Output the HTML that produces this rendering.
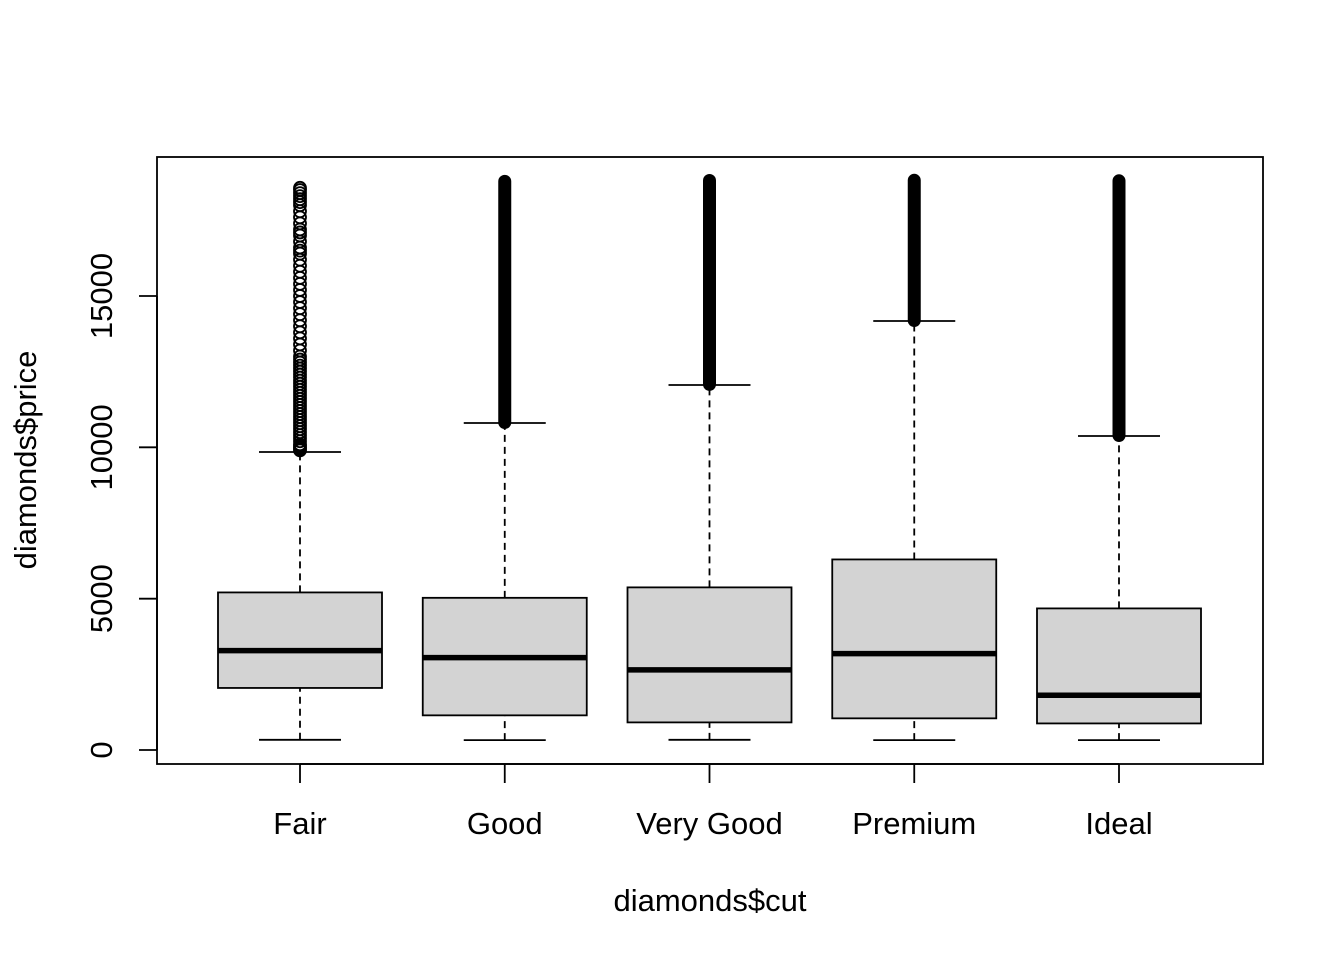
<!DOCTYPE html>
<html><head><meta charset="utf-8"><style>
html,body{margin:0;padding:0;background:#fff;}
svg text{font-family:"Liberation Sans",Arial,sans-serif;fill:#000;}
</style></head><body>
<svg id="chart" width="1344" height="960" xmlns="http://www.w3.org/2000/svg">
<rect x="157" y="157" width="1106" height="607" fill="none" stroke="#000" stroke-width="1.8"/>
<g id="marks"></g>
<g id="axes"></g>
<text x="710" y="911" font-size="31" text-anchor="middle">diamonds$cut</text>
<text transform="translate(36,460) rotate(-90)" font-size="31" text-anchor="middle">diamonds$price</text>
</svg>
<script>
const categories = ["Fair","Good","Very Good","Premium","Ideal"];
const mins = [337,327,336,326,326];
const q1s = [2050,1145,912,1046,878];
const medians = [3282,3050,2648,3185,1810];
const q3s = [5206,5028,5373,6296,4678];
const upperWhiskers = [9846,10804,12059,14174,10374];
const outlierLow = [9900,10820,12080,14190,10390];
const outlierHigh = [18574,18788,18818,18823,18806];
const fairOutliers = [9900,9950,10000,10050,10100,10200,10300,10400,10500,10600,10700,10800,10900,11000,11100,11200,11300,11400,11500,11600,11700,11800,11900,12000,12100,12200,12300,12400,12500,12600,12700,12800,12900,13000,13200,13400,13600,13800,14000,14200,14400,14600,14800,15000,15200,15400,15600,15800,16000,16200,16400,16500,16600,16800,17000,17100,17200,17400,17600,17800,18000,18100,18200,18300,18400,18500,18574];
const yTicks = [0,5000,10000,15000];

const NS="http://www.w3.org/2000/svg";
const xScale = i => 300 + i*204.75;
const yScale = v => 750 - v*454/15000;
const marks=document.getElementById('marks'), axes=document.getElementById('axes');
function mk(tag,attrs,parent){const e=document.createElementNS(NS,tag);for(const k in attrs)e.setAttribute(k,attrs[k]);parent.appendChild(e);return e;}

categories.forEach((c,i)=>{
  const x=xScale(i);
  let e;
  e=mk('line',{x1:x,x2:x,y1:yScale(mins[i]),y2:yScale(q1s[i]),stroke:'#000','stroke-width':1.8,'stroke-dasharray':'7,5'},marks);
  
  
  e=mk('line',{x1:x,x2:x,y1:yScale(q3s[i]),y2:yScale(upperWhiskers[i]),stroke:'#000','stroke-width':1.8,'stroke-dasharray':'7,5'},marks);
  
  
  e=mk('line',{x1:x-41,x2:x+41,y1:yScale(mins[i]),y2:yScale(mins[i]),stroke:'#000','stroke-width':1.8},marks);
  
  
  e=mk('line',{x1:x-41,x2:x+41,y1:yScale(upperWhiskers[i]),y2:yScale(upperWhiskers[i]),stroke:'#000','stroke-width':1.8},marks);
  
  
  e=mk('rect',{x:x-82,y:yScale(q3s[i]),width:164,height:yScale(q1s[i])-yScale(q3s[i]),fill:'#d3d3d3',stroke:'#000','stroke-width':1.8},marks);
  
  
  e=mk('line',{x1:x-82,x2:x+82,y1:yScale(medians[i]),y2:yScale(medians[i]),stroke:'#000','stroke-width':5.5},marks);
  
  
  if(i===0){
    fairOutliers.forEach(v=>{
      const o=mk('circle',{cx:x,cy:yScale(v),r:6,fill:'none',stroke:'#000','stroke-width':1.8},marks);
      
      
    });
  } else {
    e=mk('line',{x1:x,x2:x,y1:yScale(outlierLow[i]),y2:yScale(outlierHigh[i]),stroke:'#000','stroke-width':13,'stroke-linecap':'round'},marks);
    
    
  }
  e=mk('line',{x1:x,x2:x,y1:764,y2:783,stroke:'#000','stroke-width':1.8},axes);
  
  
  e=mk('text',{x:x,y:834,'font-size':31,'text-anchor':'middle'},axes);
  e.textContent=c;
  
  
});
let e=mk('line',{x1:157,x2:157,y1:yScale(yTicks[0]),y2:yScale(yTicks[yTicks.length-1]),stroke:'#000','stroke-width':1.8},axes);


e=mk('line',{x1:300,x2:1119,y1:764,y2:764,stroke:'#000','stroke-width':1.8},axes);


yTicks.forEach(v=>{
  const y=yScale(v);
  let t=mk('line',{x1:139,x2:157,y1:y,y2:y,stroke:'#000','stroke-width':1.8},axes);
  
  
  t=mk('text',{transform:`translate(112,${y}) rotate(-90)`,'font-size':31,'text-anchor':'middle'},axes);
  t.textContent=v;
  
  
});
</script>
</body></html>
